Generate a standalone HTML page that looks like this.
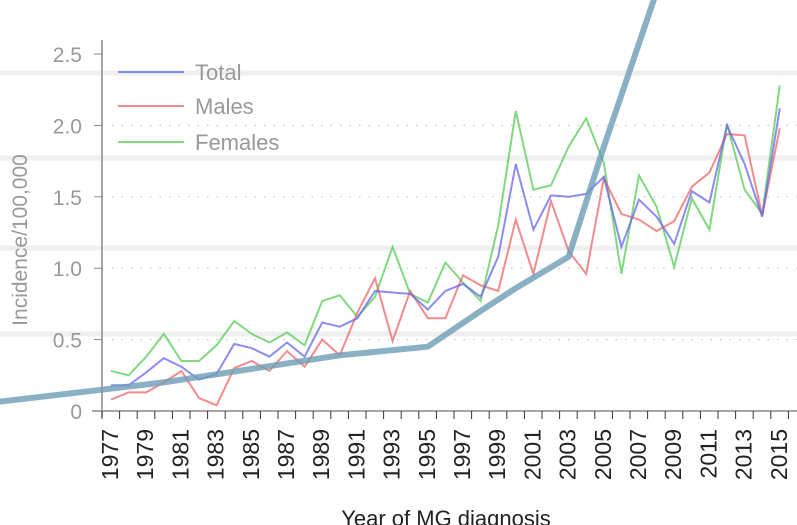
<!DOCTYPE html>
<html><head><meta charset="utf-8"><style>
html,body{margin:0;padding:0;background:#fff;}
svg{display:block;font-family:"Liberation Sans",sans-serif;}
</style></head><body>
<svg id="chart" width="797" height="525"></svg>
<script>
const years=[];for(let y=1977;y<=2015;y++)years.push(y);
const totalVals=[.18,.18,.27,.37,.31,.22,.26,.47,.44,.38,.48,.38,.62,.59,.65,.84,.83,.82,.71,.84,.89,.80,1.08,1.73,1.27,1.51,1.50,1.52,1.64,1.15,1.48,1.36,1.17,1.54,1.46,2.00,1.73,1.36,2.12];
const maleVals=[.08,.13,.13,.20,.28,.09,.04,.30,.35,.28,.42,.31,.50,.39,.69,.93,.49,.84,.65,.65,.95,.88,.84,1.34,.96,1.47,1.12,.96,1.63,1.38,1.34,1.26,1.33,1.57,1.67,1.94,1.93,1.37,1.98];
const femaleVals=[.28,.25,.38,.54,.35,.35,.46,.63,.54,.48,.55,.46,.77,.81,.66,.80,1.15,.82,.76,1.04,.90,.77,1.30,2.10,1.55,1.58,1.85,2.05,1.74,.96,1.65,1.43,1.01,1.49,1.27,2.01,1.55,1.38,2.28];
const trendYears=[1970.3,1980,1990,1995,1998,2000,2003,2005,2007.9];
const trendVals=[.06,.20,.39,.45,.70,.86,1.08,1.85,2.9];
const yTicks=[0,0.5,1.0,1.5,2.0,2.5];
const yTickLabels=["0","0.5","1.0","1.5","2.0","2.5"];
const xLabelYears=years.filter(y=>(y-1977)%2===0);

const NS="http://www.w3.org/2000/svg";
const svg=document.getElementById('chart');
const X0=102,STEP=17.6,Y0=411,YS=142.8;
function xs(yr){return X0+STEP*(yr-1977)+9;}
function ys(v){return Y0-v*YS;}
function mk(tag,attrs,parent){const e=document.createElementNS(NS,tag);for(const k in attrs)e.setAttribute(k,attrs[k]);(parent||svg).appendChild(e);return e;}

[73,158,248,334].forEach(y=>{
 const b=mk('rect',{x:0,y:y-2.5,width:797,height:5,fill:'#efefef'});
 
 
});
yTicks.slice(1,5).forEach(t=>{
 const g=mk('line',{x1:X0+10,x2:797,y1:ys(t),y2:ys(t),stroke:'#bbb','stroke-dasharray':'1.5 8'});
 
 
});
const ya=mk('line',{x1:X0,x2:X0,y1:40,y2:Y0+6,stroke:'#888','stroke-width':1.5});


yTicks.forEach((t,i)=>{
 mk('line',{x1:X0-8,x2:X0,y1:ys(t),y2:ys(t),stroke:'#888'});
 const l=mk('text',{x:X0-20,y:ys(t)+8,'text-anchor':'end','font-size':21,fill:'#999'});
 l.textContent=yTickLabels[i];
 
 
});
const xa=mk('line',{x1:X0-10,x2:797,y1:Y0,y2:Y0,stroke:'#888','stroke-width':1.5});


for(let i=0;i<=years.length;i++){mk('line',{x1:X0+STEP*i,x2:X0+STEP*i,y1:Y0,y2:Y0+8,stroke:'#333'});}
xLabelYears.forEach(yr=>{
 const cx=xs(yr)+7;
 const t=mk('text',{x:0,y:0,'text-anchor':'end','font-size':23,fill:'#222',transform:`translate(${cx},${Y0+18}) rotate(-90)`});
 t.textContent=yr;
 
 
});
const xt=mk('text',{x:446,y:526,'text-anchor':'middle','font-size':22,fill:'#222'});
xt.textContent='Year of MG diagnosis';


const yt=mk('text',{x:0,y:0,'text-anchor':'middle','font-size':21,fill:'#999',transform:'translate(27,240) rotate(-90)'});
yt.textContent='Incidence/100,000';



function line(vals,color,name){
 const d=vals.map((v,i)=>(i?'L':'M')+xs(years[i]).toFixed(1)+','+ys(v).toFixed(1)).join('');
 const p=mk('path',{d,fill:'none',stroke:color,'stroke-width':2,'stroke-opacity':0.75});
 
 
}
line(femaleVals,'#55cc55','series-females');
line(maleVals,'#ee6666','series-males');
line(totalVals,'#6666ee','series-total');
const td=trendVals.map((v,i)=>(i?'L':'M')+xs(trendYears[i]).toFixed(1)+','+ys(v).toFixed(1)).join('');
const tr=mk('path',{d:td,fill:'none',stroke:'#6d9cb4','stroke-width':6,'stroke-opacity':0.8,'stroke-linejoin':'round'});



[['Total','#6666ee',72],['Males','#ee6666',106],['Females','#55cc55',142]].forEach(([n,c,y])=>{
 const g=mk('g',{});
 
 
 mk('line',{x1:118,x2:184,y1:y,y2:y,stroke:c,'stroke-width':2,'stroke-opacity':0.75},g);
 const t=mk('text',{x:195,y:y+8,'font-size':22,fill:'#999'},g);
 t.textContent=n;
});
</script>
</body></html>
